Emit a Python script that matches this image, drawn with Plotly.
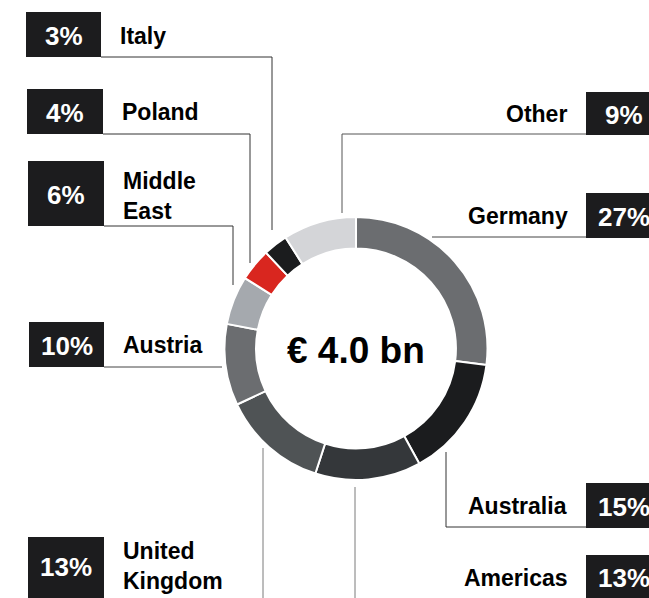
import plotly.graph_objects as go

# ---- data ----
regions = ["Germany", "Australia", "Americas", "United Kingdom", "Austria",
           "Middle East", "Poland", "Italy", "Other"]
shares = [27, 15, 13, 13, 10, 6, 4, 3, 9]
colors = ["#6b6d70", "#1b1c1e", "#34373a", "#4f5355", "#6b6d70",
          "#a5a9ae", "#d9261f", "#1b1c1e", "#d4d5d8"]
center_label = "€ 4.0 bn"
display_names = {"United Kingdom": "United<br>Kingdom", "Middle East": "Middle<br>East"}

W, H = 649, 598


def px(x):
    return x / W


def py(y):
    return 1 - y / H


fig = go.Figure()
fig.add_trace(go.Pie(
    labels=regions, values=shares, sort=False, direction="clockwise",
    rotation=0, hole=0.76, textinfo="none", hoverinfo="label+percent",
    marker=dict(colors=colors, line=dict(color="white", width=2)),
    domain=dict(x=[px(224.5), px(487.5)], y=[py(480), py(217)]),
    showlegend=False,
))

FONT = "Liberation Sans, Arial, sans-serif"
BOX = "#1c1c1e"

# label layout: side, box (x0, y0, x1, y1), label anchor x, label centre y, leader polyline, line colour
layout_spec = {
    "Italy": ("L", (26, 12, 101, 57), 118, 35, [(101, 57), (272, 57), (272, 230)], "#333333"),
    "Poland": ("L", (27, 89, 103, 134), 120, 111, [(103, 134), (250, 134), (250, 263)], "#333333"),
    "Middle East": ("L", (28, 161, 104, 226), 121, 195, [(104, 226), (233, 226), (233, 285)], "#333333"),
    "Austria": ("L", (29, 322, 104, 367), 121, 344, [(104, 367), (222, 367)], "#444444"),
    "United Kingdom": ("L", (28, 537, 104, 610), 121, 565, [(263, 448), (263, 598)], "#7a7a7a"),
    "Other": ("R", (586, 92, 662, 135), 569, 113, [(586, 134), (342, 134), (342, 213)], "#555555"),
    "Germany": ("R", (586, 193, 662, 238), 570, 215, [(586, 237), (432, 237)], "#444444"),
    "Australia": ("R", (586, 483, 662, 528), 569, 505, [(446, 452), (446, 527), (586, 527)], "#333333"),
    "Americas": ("R", (586, 555, 662, 600), 570, 577, [(355, 487), (355, 598)], "#7a7a7a"),
}

shapes = []
annotations = []
for name, val in zip(regions, shares):
    side, (x0, y0, x1, y1), lx, ly, pts, lc = layout_spec[name]
    path = "M " + " L ".join(f"{px(x)},{py(y)}" for x, y in pts)
    shapes.append(dict(type="path", path=path, xref="paper", yref="paper",
                       line=dict(color=lc, width=1)))
    shapes.append(dict(type="rect", xref="paper", yref="paper",
                       x0=px(x0), x1=px(x1), y0=py(y1), y1=py(y0),
                       fillcolor=BOX, line=dict(width=0), layer="above"))
    cy = (y0 + min(y1, 598)) / 2
    if name == "United Kingdom":
        cy = 566
    annotations.append(dict(
        x=px((x0 + x1) / 2 if side == "L" else 624), y=py(cy + 1),
        xref="paper", yref="paper", text=f"<b>{val}%</b>", showarrow=False,
        font=dict(family=FONT, size=26, color="white"),
        xanchor="center", yanchor="middle"))
    annotations.append(dict(
        x=px(lx), y=py(ly + 1), xref="paper", yref="paper",
        text=f"<b>{display_names.get(name, name)}</b>", showarrow=False,
        font=dict(family=FONT, size=23, color="black"),
        xanchor="left" if side == "L" else "right", yanchor="middle",
        align="left"))

annotations.append(dict(
    x=px(356), y=py(350), xref="paper", yref="paper",
    text=f"<b>{center_label}</b>", showarrow=False,
    font=dict(family=FONT, size=37, color="black"),
    xanchor="center", yanchor="middle"))

fig.update_layout(
    width=W, height=H, margin=dict(l=0, r=0, t=0, b=0),
    paper_bgcolor="white", plot_bgcolor="white",
    shapes=shapes, annotations=annotations,
)

fig.write_html("out.html", config={"displayModeBar": False},
               post_script="document.body.style.margin='0';document.body.style.overflow='hidden';")
